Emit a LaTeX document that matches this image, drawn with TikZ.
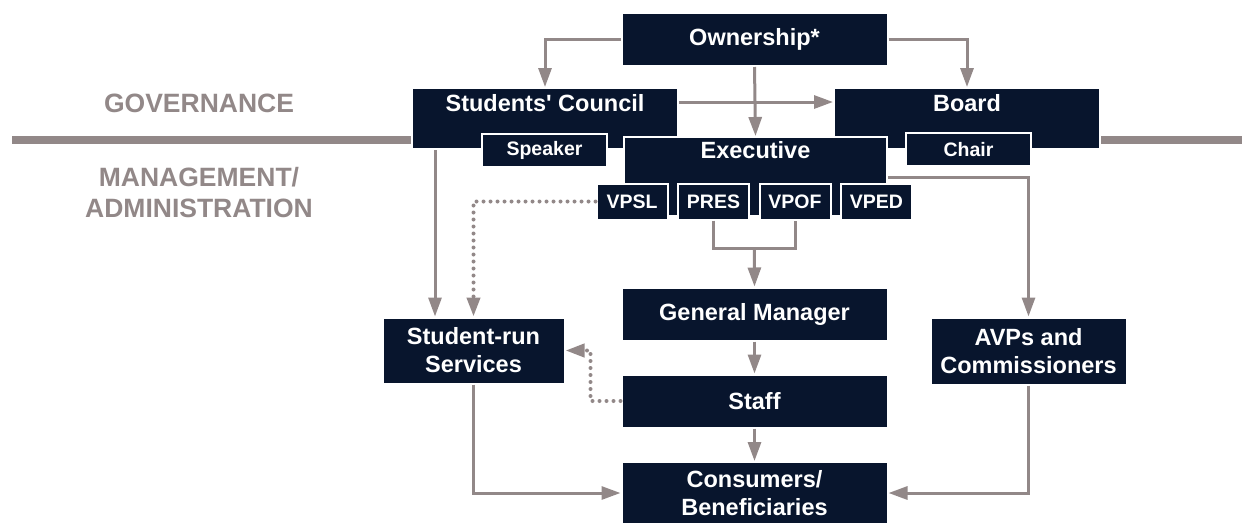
\documentclass[tikz,border=0pt]{standalone}
\usepackage{fontspec}
\setmainfont{Liberation Sans}
\usetikzlibrary{arrows.meta}
\usetikzlibrary{positioning}
\usetikzlibrary{calc}
\definecolor{navy}{RGB}{8,21,45}
\definecolor{lgray}{RGB}{146,136,136}
\newcommand{\boxfont}{\bfseries\fontsize{23.5}{28}\selectfont}
\newcommand{\tagfont}{\bfseries\fontsize{19.5}{23}\selectfont}
\newcommand{\zonefont}{\bfseries\fontsize{26.5}{31}\selectfont}
\tikzset{
  unit/.style={fill=navy,draw=white,line width=2pt,text=white,inner sep=0pt,font=\boxfont},
  wide/.style={unit,minimum width=266pt,text height=23pt,text depth=38pt,anchor=north west},
  role/.style={unit,font=\tagfont,minimum width=125pt,minimum height=33pt},
  vp/.style={unit,font=\tagfont,minimum width=71pt,minimum height=36pt},
  stage/.style={unit,minimum width=266pt,minimum height=53pt,align=center},
  link/.style={draw=lgray,line width=3pt},
  hint/.style={link,line width=4pt,dash pattern=on 0pt off 7pt,line cap=round},
  zone/.style={text=lgray,font=\zonefont,align=center}
}

\begin{document}
\begin{tikzpicture}[x=1pt,y=-1pt,node distance=81.5pt,>={Triangle[length=19pt,width=13pt]}]
\useasboundingbox (0,0) rectangle (1242,523);
\coordinate (divL) at (12,139.5);
\coordinate (divR) at (1242,139.5);
\draw node [zone] (gov) at (199,103) {GOVERNANCE};
\draw node [zone] (mgmt) at (199,193) {MANAGEMENT/\\ADMINISTRATION};
\draw node [stage] (own) at (754.5,39.5) {Ownership*};
\draw node [wide] (council) at (411,87) {Students\textquotesingle{} Council};
\draw node [wide] (board) at (833,87) {Board};
\draw node [role] (speaker) at (544.5,150) {Speaker};
\draw node [role] (chair) at (968.5,149.5) {Chair};
\draw node [wide,minimum width=263pt,text height=21pt,text depth=58pt] (exec) at (623,136) {Executive};
\draw node [vp] (vpsl) at (632,201.5) {VPSL};
\draw node [vp] [right of=vpsl] (pres) {PRES};
\draw node [vp] [right of=pres] (vpof) {VPOF};
\draw node [vp] [right of=vpof] (vped) {VPED};
\draw node [stage] (gm) at (754.5,314) {General Manager};
\draw node [stage] (staff) at (754.5,401) {Staff};
\draw node [stage,minimum height=62pt] (cons) at (754.5,493) {Consumers/\\Beneficiaries};
\draw node [stage,minimum width=182pt,minimum height=66pt] (srs) at (473.5,350.5) {Student-run\\Services};
\draw node [stage,minimum width=196pt,minimum height=67pt] (avp) at (1028.5,351) {AVPs and\\Commissioners};
\draw [link,line width=8pt] (divL) -- (divL -| council.west);
\draw [link,line width=8pt] (divR) -- (divR -| board.east);
\draw [link,->] (own.west) -| (council.north);
\draw [link,->] (own.east) -| (board.north);
\draw [link,->] (own.south) -- (exec.north);
\draw [link,->] ([yshift=-15pt]council.north east) -- ([yshift=-15pt]board.north west);
\draw [link,->] ([xshift=24pt]council.south west) -- ([xshift=24pt]council.south west |- srs.north);
\draw [hint,->] (vpsl.west) -| (srs.north);
\coordinate (fork) at ($(pres.south)!0.5!(vpof.south)+(0,28)$);
\draw [link] (pres.south) |- (fork) -| (vpof.south);
\draw [link,->] (fork) -- (gm.north);
\draw [link,->] ([yshift=-41pt]exec.north east) -| (avp.north);
\draw [link,->] (gm.south) -- (staff.north);
\draw [hint,->] (staff.west) -- ++(-30,0) |- (srs.east);
\draw [link,->] (staff.south) -- (cons.north);
\draw [link,->] (srs.south) |- (cons.west);
\draw [link,->] (avp.south) |- (cons.east);
\end{tikzpicture}
\end{document}
